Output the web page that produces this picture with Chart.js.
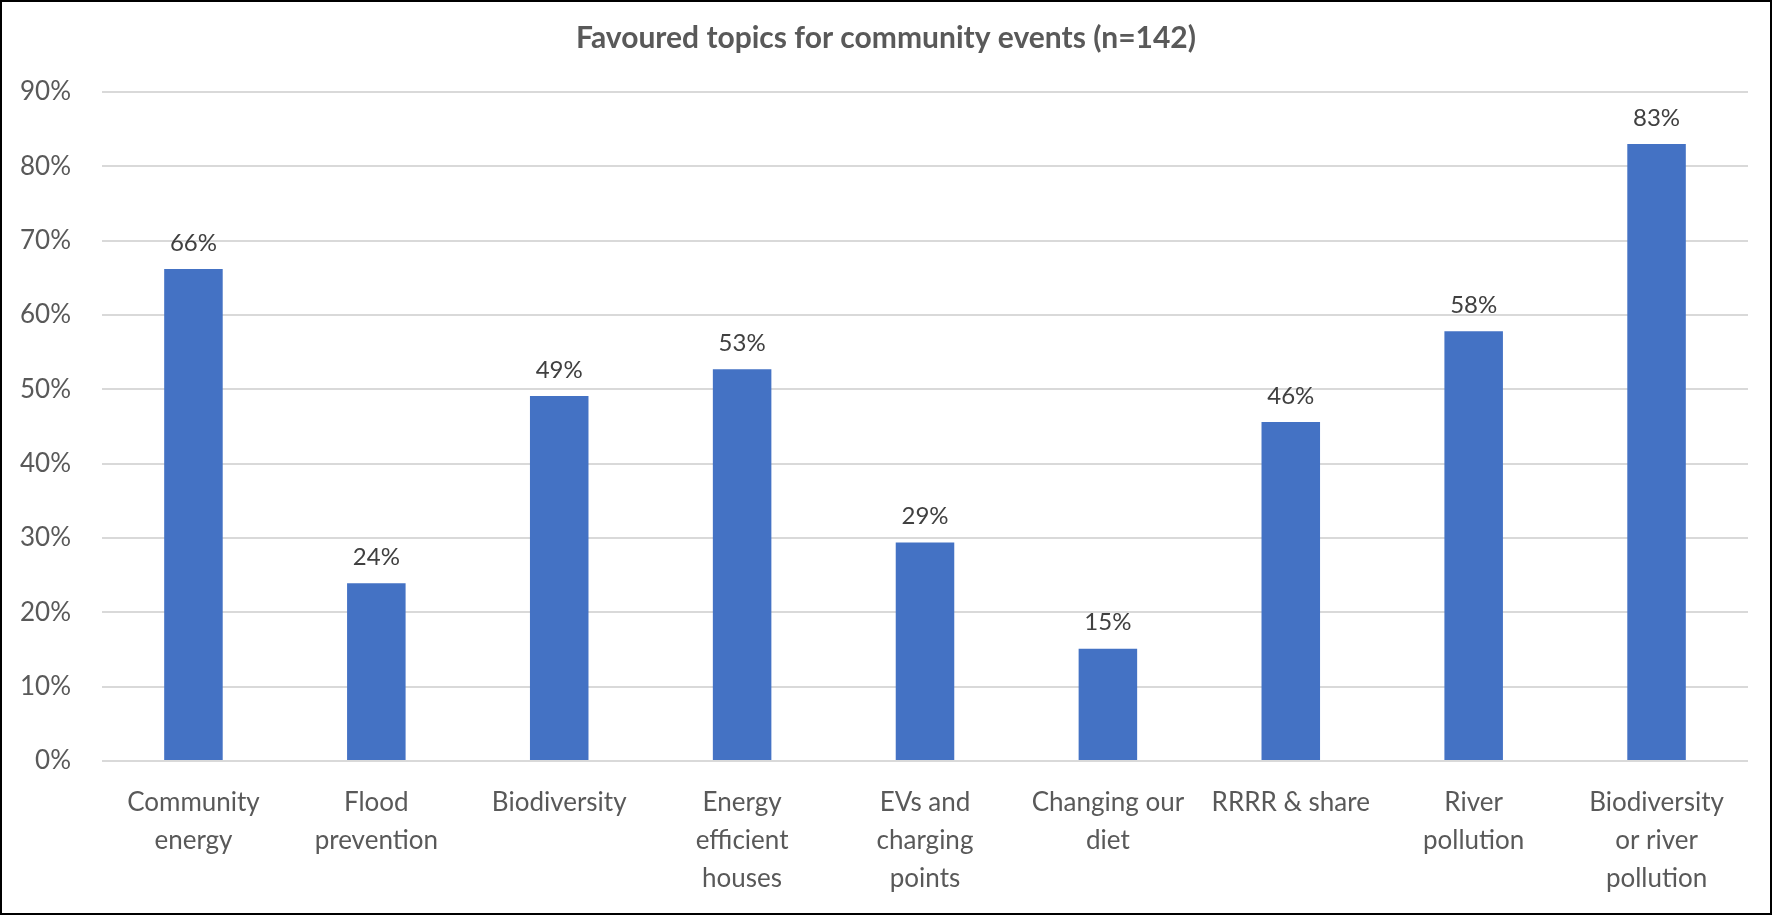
<!DOCTYPE html>
<html>
<head>
<meta charset="utf-8">
<title>Favoured topics for community events</title>
<script src="https://cdn.jsdelivr.net/npm/chart.js@4/dist/chart.umd.min.js"></script>
<style>
  html, body { margin: 0; padding: 0; background: #fff; }
  #frame {
    width: 1772px; height: 915px;
    box-sizing: border-box;
    border: 2px solid #000;
    background: #fff;
  }
  #frame canvas { display: block; }
</style>
</head>
<body>
<div id="frame"><canvas id="myChart" width="1768" height="911"></canvas></div>
<script>
// данные графика
const topics = [
  ['Community', 'energy'],
  ['Flood', 'prevention'],
  'Biodiversity',
  ['Energy', 'efficient', 'houses'],
  ['EVs and', 'charging', 'points'],
  ['Changing our', 'diet'],
  'RRRR & share',
  ['River', 'pollution'],
  ['Biodiversity', 'or river', 'pollution']
];
const shares = [66.2, 23.9, 49.1, 52.7, 29.4, 15.1, 45.6, 57.8, 83.0];
const yTicks = [0, 10, 20, 30, 40, 50, 60, 70, 80, 90];

const fontFamily = 'Lato, "Noto Sans", sans-serif';

// подписи над столбцами
const barLabels = {
  id: 'barLabels',
  afterDatasetsDraw(chart) {
    const c = chart.ctx;
    const meta = chart.getDatasetMeta(0);
    c.save();
    c.font = '24px ' + fontFamily;
    c.fillStyle = '#404040';
    c.textAlign = 'center';
    c.textBaseline = 'middle';
    meta.data.forEach(function(bar, i) {
      c.fillText(Math.round(shares[i]) + '%', bar.x, bar.y - 26);
    });
    c.restore();
  }
};

const ctx = document.getElementById('myChart').getContext('2d');
const chart = new Chart(ctx, {
  type: 'bar',
  data: {
    labels: topics,
    datasets: [{
      data: shares,
      backgroundColor: '#4472C4',
      borderWidth: 0,
      barPercentage: 0.32,
      categoryPercentage: 1
    }]
  },
  options: {
    responsive: false,
    animation: false,
    layout: { padding: 0 },
    plugins: {
      legend: { display: false },
      tooltip: { enabled: false },
      title: {
        display: true,
        text: 'Favoured topics for community events (n=142)',
        color: '#595959',
        font: { family: fontFamily, size: 30, weight: 'bold', lineHeight: 1.2 },
        padding: { top: 18, bottom: 36 }
      }
    },
    scales: {
      x: {
        grid: { display: false, drawTicks: false },
        border: { display: false },
        ticks: {
          color: '#595959',
          font: { family: fontFamily, size: 26, lineHeight: 1.45 },
          padding: 23,
          maxRotation: 0,
          autoSkip: false
        },
        afterFit(scale) { scale.height = 152; }
      },
      y: {
        min: 0,
        max: 90,
        afterBuildTicks(scale) {
          scale.ticks = yTicks.map(v => ({ value: v }));
        },
        grid: { color: '#D9D9D9', lineWidth: 2, drawTicks: false },
        border: { display: false },
        ticks: {
          color: '#595959',
          font: { family: fontFamily, size: 26 },
          padding: 31,
          callback: v => v + '%'
        },
        afterFit(scale) { scale.width = 100; }
      },
      // пустая ось справа - просто отступ, чтобы заголовок был по центру
      yRight: {
        position: 'right',
        grid: { display: false, drawTicks: false },
        border: { display: false },
        ticks: { display: false },
        afterFit(scale) { scale.width = 22; }
      }
    }
  },
  plugins: [barLabels]
});
</script>
</body>
</html>
